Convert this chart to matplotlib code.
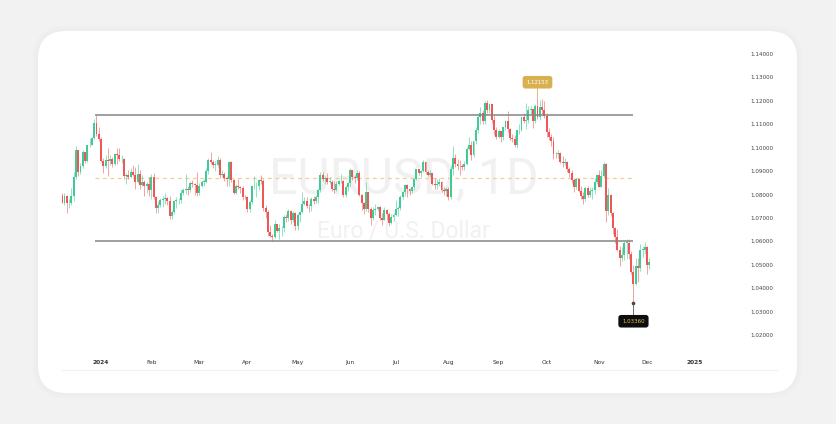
import numpy as np
import pandas as pd
import matplotlib
matplotlib.use("Agg")
import matplotlib.pyplot as plt
from matplotlib.patches import FancyBboxPatch
from matplotlib.transforms import Affine2D
from matplotlib.lines import Line2D

# EURUSD daily candles, 2023-12-06 .. 2024-12-03 (one line per month)
opens = [
    1.0795, 1.0765, 1.0793, 1.0762, 1.0763, 1.0793, 1.0873, 1.0990, 1.0896, 1.0922, 1.0980, 1.0942, 1.1010, 1.1012, 1.1042, 1.1105, 1.1060,
    1.1038, 1.0942, 1.0921, 1.0946, 1.0941, 1.0950, 1.0930, 1.0972, 1.0970, 1.0950, 1.0951, 1.0880, 1.0885, 1.0875, 1.0897, 1.0885, 1.0855, 1.0886, 1.0840, 1.0855, 1.0835, 1.0845,
    1.0818, 1.0873, 1.0790, 1.0743, 1.0755, 1.0775, 1.0780, 1.0785, 1.0772, 1.0708, 1.0727, 1.0772, 1.0777, 1.0777, 1.0807, 1.0820, 1.0823, 1.0820, 1.0850, 1.0845, 1.0840,
    1.0805, 1.0838, 1.0855, 1.0855, 1.0900, 1.0948, 1.0938, 1.0927, 1.0927, 1.0948, 1.0882, 1.0888, 1.0870, 1.0865, 1.0940, 1.0860, 1.0808, 1.0838, 1.0830, 1.0827, 1.0790,
    1.0788, 1.0740, 1.0770, 1.0835, 1.0837, 1.0838, 1.0860, 1.0857, 1.0742, 1.0727, 1.0642, 1.0625, 1.0617, 1.0673, 1.0643, 1.0655, 1.0655, 1.0703, 1.0698, 1.0730, 1.0693, 1.0719,
    1.0665, 1.0713, 1.0727, 1.0761, 1.0771, 1.0752, 1.0749, 1.0783, 1.0771, 1.0790, 1.0820, 1.0882, 1.0865, 1.0870, 1.0855, 1.0855, 1.0822, 1.0820, 1.0847, 1.0858, 1.0858, 1.0800, 1.0832,
    1.0848, 1.0905, 1.0875, 1.0870, 1.0890, 1.0800, 1.0765, 1.0740, 1.0810, 1.0740, 1.0700, 1.0735, 1.0740, 1.0745, 1.0700, 1.0693, 1.0733, 1.0715, 1.0680, 1.0703,
    1.0713, 1.0740, 1.0743, 1.0790, 1.0810, 1.0840, 1.0825, 1.0813, 1.0830, 1.0865, 1.0907, 1.0893, 1.0900, 1.0937, 1.0895, 1.0883, 1.0890, 1.0845, 1.0840, 1.0845, 1.0855, 1.0820, 1.0815,
    1.0825, 1.0790, 1.0910, 1.0955, 1.0930, 1.0922, 1.0920, 1.0918, 1.0932, 1.0993, 1.1013, 1.0967, 1.1027, 1.1077, 1.1130, 1.1150, 1.1112, 1.1192, 1.1160, 1.1185, 1.1120, 1.1077,
    1.1047, 1.1070, 1.1045, 1.1088, 1.1112, 1.1080, 1.1040, 1.1035, 1.1013, 1.1075, 1.1075, 1.1132, 1.1115, 1.1117, 1.1160, 1.1165, 1.1112, 1.1180, 1.1133, 1.1173, 1.1163,
    1.1135, 1.1068, 1.1045, 1.1030, 1.0975, 1.0973, 1.0978, 1.0940, 1.0935, 1.0937, 1.0908, 1.0890, 1.0862, 1.0832, 1.0866, 1.0817, 1.0795, 1.0780, 1.0826, 1.0797, 1.0815, 1.0818, 1.0855,
    1.0882, 1.0833, 1.0880, 1.0930, 1.0730, 1.0800, 1.0720, 1.0655, 1.0620, 1.0565, 1.0530, 1.0540, 1.0595, 1.0595, 1.0545, 1.0470, 1.0418, 1.0495, 1.0488, 1.0565, 1.0565,
    1.0578, 1.0497,
]
highs = [
    1.0805, 1.0805, 1.0796, 1.0780, 1.0826, 1.0895, 1.1009, 1.0992, 1.0936, 1.0988, 1.0982, 1.1013, 1.1040, 1.1046, 1.1121, 1.1140, 1.1088,
    1.1046, 1.0955, 1.0967, 1.1000, 1.0968, 1.0960, 1.0975, 1.0999, 1.0997, 1.0967, 1.0954, 1.0894, 1.0906, 1.0915, 1.0924, 1.0916, 1.0932, 1.0904, 1.0885, 1.0862, 1.0855, 1.0873,
    1.0888, 1.0890, 1.0795, 1.0772, 1.0785, 1.0795, 1.0805, 1.0790, 1.0795, 1.0736, 1.0777, 1.0789, 1.0787, 1.0824, 1.0826, 1.0888, 1.0835, 1.0856, 1.0864, 1.0851, 1.0897,
    1.0850, 1.0860, 1.0868, 1.0912, 1.0954, 1.0981, 1.0947, 1.0945, 1.0963, 1.0955, 1.0906, 1.0895, 1.0878, 1.0942, 1.0942, 1.0867, 1.0843, 1.0865, 1.0838, 1.0838, 1.0800,
    1.0795, 1.0776, 1.0839, 1.0877, 1.0852, 1.0866, 1.0885, 1.0865, 1.0757, 1.0736, 1.0670, 1.0632, 1.0690, 1.0676, 1.0674, 1.0667, 1.0714, 1.0716, 1.0740, 1.0735, 1.0728, 1.0726,
    1.0720, 1.0730, 1.0812, 1.0790, 1.0788, 1.0759, 1.0790, 1.0793, 1.0800, 1.0825, 1.0895, 1.0895, 1.0880, 1.0894, 1.0875, 1.0862, 1.0859, 1.0856, 1.0862, 1.0889, 1.0862, 1.0841, 1.0852,
    1.0915, 1.0906, 1.0883, 1.0903, 1.0902, 1.0802, 1.0768, 1.0852, 1.0812, 1.0746, 1.0746, 1.0761, 1.0752, 1.0750, 1.0720, 1.0746, 1.0740, 1.0724, 1.0715, 1.0722,
    1.0776, 1.0749, 1.0799, 1.0816, 1.0845, 1.0845, 1.0829, 1.0837, 1.0872, 1.0910, 1.0910, 1.0906, 1.0948, 1.0944, 1.0906, 1.0904, 1.0893, 1.0869, 1.0868, 1.0871, 1.0856, 1.0830, 1.0830,
    1.0833, 1.0926, 1.1009, 1.0972, 1.0950, 1.0946, 1.0931, 1.0945, 1.1003, 1.1047, 1.1027, 1.1030, 1.1090, 1.1140, 1.1174, 1.1160, 1.1201, 1.1202, 1.1190, 1.1188, 1.1139, 1.1088,
    1.1078, 1.1072, 1.1090, 1.1120, 1.1155, 1.1085, 1.1060, 1.1055, 1.1075, 1.1100, 1.1133, 1.1147, 1.1189, 1.1180, 1.1180, 1.1168, 1.1188, 1.12153, 1.1202, 1.1209, 1.1198,
    1.1147, 1.1083, 1.1060, 1.1045, 1.0983, 1.0990, 1.0983, 1.0964, 1.0955, 1.0941, 1.0918, 1.0903, 1.0872, 1.0869, 1.0871, 1.0836, 1.0810, 1.0834, 1.0836, 1.0832, 1.0830, 1.0870, 1.0889,
    1.0905, 1.0906, 1.0937, 1.0935, 1.0826, 1.0804, 1.0725, 1.0661, 1.0651, 1.0582, 1.0575, 1.0600, 1.0609, 1.0610, 1.0557, 1.0498, 1.0531, 1.0528, 1.0588, 1.0579, 1.0597,
    1.0582, 1.0530,
]
lows = [
    1.0762, 1.0756, 1.0723, 1.0743, 1.0755, 1.0772, 1.0866, 1.0880, 1.0888, 1.0915, 1.0936, 1.0940, 1.1002, 1.1010, 1.1038, 1.1048, 1.1030,
    1.0937, 1.0892, 1.0915, 1.0877, 1.0924, 1.0917, 1.0925, 1.0931, 1.0944, 1.0935, 1.0865, 1.0845, 1.0865, 1.0870, 1.0879, 1.0822, 1.0849, 1.0822, 1.0835, 1.0795, 1.0805, 1.0795,
    1.0780, 1.0782, 1.0723, 1.0722, 1.0745, 1.0748, 1.0760, 1.0755, 1.0697, 1.0695, 1.0718, 1.0743, 1.0761, 1.0762, 1.0800, 1.0803, 1.0800, 1.0810, 1.0830, 1.0797, 1.0795,
    1.0796, 1.0830, 1.0835, 1.0850, 1.0888, 1.0930, 1.0915, 1.0900, 1.0917, 1.0871, 1.0874, 1.0858, 1.0837, 1.0835, 1.0855, 1.0802, 1.0802, 1.0825, 1.0808, 1.0776, 1.0780,
    1.0726, 1.0724, 1.0760, 1.0824, 1.0791, 1.0820, 1.0843, 1.0729, 1.0698, 1.0622, 1.0620, 1.0601, 1.0615, 1.0638, 1.0611, 1.0624, 1.0642, 1.0682, 1.0689, 1.0674, 1.0683, 1.0650,
    1.0649, 1.0681, 1.0723, 1.0754, 1.0741, 1.0724, 1.0730, 1.0760, 1.0762, 1.0765, 1.0810, 1.0857, 1.0843, 1.0846, 1.0843, 1.0817, 1.0805, 1.0813, 1.0840, 1.0848, 1.0789, 1.0788, 1.0816,
    1.0833, 1.0864, 1.0851, 1.0860, 1.0792, 1.0733, 1.0718, 1.0730, 1.0727, 1.0668, 1.0690, 1.0712, 1.0730, 1.0693, 1.0671, 1.0690, 1.0690, 1.0667, 1.0676, 1.0686,
    1.0710, 1.0710, 1.0734, 1.0781, 1.0794, 1.0791, 1.0797, 1.0806, 1.0819, 1.0860, 1.0882, 1.0875, 1.0895, 1.0886, 1.0878, 1.0875, 1.0840, 1.0825, 1.0825, 1.0838, 1.0810, 1.0800, 1.0794,
    1.0778, 1.0779, 1.0882, 1.0918, 1.0903, 1.0882, 1.0906, 1.0904, 1.0925, 1.0990, 1.0949, 1.0962, 1.1015, 1.1062, 1.1100, 1.1101, 1.1103, 1.1150, 1.1150, 1.1105, 1.1054, 1.1039,
    1.1040, 1.1026, 1.1032, 1.1075, 1.1067, 1.1031, 1.1025, 1.1002, 1.0997, 1.1060, 1.1073, 1.1105, 1.1080, 1.1107, 1.1140, 1.1083, 1.1105, 1.1122, 1.1120, 1.1144, 1.1127,
    1.1046, 1.1032, 1.1007, 1.0951, 1.0954, 1.0956, 1.0934, 1.0918, 1.0925, 1.0897, 1.0873, 1.0849, 1.0811, 1.0822, 1.0812, 1.0781, 1.0761, 1.0772, 1.0790, 1.0788, 1.0780, 1.0802, 1.0844,
    1.0833, 1.0830, 1.0871, 1.0682, 1.0712, 1.0708, 1.0630, 1.0595, 1.0558, 1.0496, 1.0516, 1.0521, 1.0523, 1.0523, 1.0461, 1.0336, 1.0415, 1.0426, 1.0473, 1.0535, 1.0548,
    1.0461, 1.0480,
]
closes = [
    1.0765, 1.0793, 1.0762, 1.0763, 1.0793, 1.0873, 1.0990, 1.0896, 1.0922, 1.0980, 1.0942, 1.1010, 1.1012, 1.1042, 1.1105, 1.1060, 1.1038,
    1.0942, 1.0921, 1.0946, 1.0941, 1.0950, 1.0930, 1.0972, 1.0970, 1.0950, 1.0951, 1.0880, 1.0885, 1.0875, 1.0897, 1.0885, 1.0855, 1.0886, 1.0840, 1.0855, 1.0835, 1.0845, 1.0818,
    1.0873, 1.0790, 1.0743, 1.0755, 1.0775, 1.0780, 1.0785, 1.0772, 1.0708, 1.0727, 1.0772, 1.0777, 1.0777, 1.0807, 1.0820, 1.0823, 1.0820, 1.0850, 1.0845, 1.0840, 1.0805,
    1.0838, 1.0855, 1.0855, 1.0900, 1.0948, 1.0938, 1.0927, 1.0927, 1.0948, 1.0882, 1.0888, 1.0870, 1.0865, 1.0940, 1.0860, 1.0808, 1.0838, 1.0830, 1.0827, 1.0790, 1.0788,
    1.0740, 1.0770, 1.0835, 1.0837, 1.0838, 1.0860, 1.0857, 1.0742, 1.0727, 1.0642, 1.0625, 1.0617, 1.0673, 1.0643, 1.0655, 1.0655, 1.0703, 1.0698, 1.0730, 1.0693, 1.0719, 1.0665,
    1.0713, 1.0727, 1.0761, 1.0771, 1.0752, 1.0749, 1.0783, 1.0771, 1.0790, 1.0820, 1.0882, 1.0865, 1.0870, 1.0855, 1.0855, 1.0822, 1.0820, 1.0847, 1.0858, 1.0858, 1.0800, 1.0832, 1.0848,
    1.0905, 1.0875, 1.0870, 1.0890, 1.0800, 1.0765, 1.0740, 1.0810, 1.0740, 1.0700, 1.0735, 1.0740, 1.0745, 1.0700, 1.0693, 1.0733, 1.0715, 1.0680, 1.0703, 1.0713,
    1.0740, 1.0743, 1.0790, 1.0810, 1.0840, 1.0825, 1.0813, 1.0830, 1.0865, 1.0907, 1.0893, 1.0900, 1.0937, 1.0895, 1.0883, 1.0890, 1.0845, 1.0840, 1.0845, 1.0855, 1.0820, 1.0815, 1.0825,
    1.0790, 1.0910, 1.0955, 1.0930, 1.0922, 1.0920, 1.0918, 1.0932, 1.0993, 1.1013, 1.0967, 1.1027, 1.1077, 1.1130, 1.1150, 1.1112, 1.1192, 1.1160, 1.1185, 1.1120, 1.1077, 1.1047,
    1.1070, 1.1045, 1.1088, 1.1112, 1.1080, 1.1040, 1.1035, 1.1013, 1.1075, 1.1075, 1.1132, 1.1115, 1.1117, 1.1160, 1.1165, 1.1112, 1.1180, 1.1133, 1.1173, 1.1163, 1.1135,
    1.1068, 1.1045, 1.1030, 1.0975, 1.0973, 1.0978, 1.0940, 1.0935, 1.0937, 1.0908, 1.0890, 1.0862, 1.0832, 1.0866, 1.0817, 1.0795, 1.0780, 1.0826, 1.0797, 1.0815, 1.0818, 1.0855, 1.0882,
    1.0833, 1.0880, 1.0930, 1.0730, 1.0800, 1.0720, 1.0655, 1.0620, 1.0565, 1.0530, 1.0540, 1.0595, 1.0595, 1.0545, 1.0470, 1.0418, 1.0495, 1.0488, 1.0565, 1.0565, 1.0578,
    1.0497, 1.0510,
]

holidays = ["2023-12-25", "2024-01-01", "2024-12-25", "2025-01-01"]
yticks = [1.02, 1.03, 1.04, 1.05, 1.06, 1.07, 1.08, 1.09, 1.10, 1.11, 1.12, 1.13, 1.14]

resistance = 1.1140
support = 1.0600
midline = 1.0870
line_from = "2023-12-28"
line_to = "2024-11-22"

UP = "#3ecb95"
DOWN = "#ef5656"
GOLD = "#d8b04f"

# trading-day axis (weekends/holidays skipped)
dates = pd.bdate_range("2023-12-06", "2025-01-15")
dates = dates[~dates.isin(pd.to_datetime(holidays))]
n = len(closes)
o = np.array(opens); h = np.array(highs); l = np.array(lows); c = np.array(closes)
x = np.arange(n)

W, H = 836, 424
fig = plt.figure(figsize=(W / 100, H / 100), dpi=100)
fig.patch.set_facecolor("#f2f2f2")
px = Affine2D().scale(1 / W, 1 / H) + fig.transFigure

# card with soft shadow
for k in range(6, 0, -1):
    fig.patches.append(FancyBboxPatch((38 - k, H - 393 - k), 759 + 2 * k, 362 + 2 * k,
                                      boxstyle="round,pad=0,rounding_size=%d" % (28 + k),
                                      transform=px, fc="black", ec="none", alpha=0.005, zorder=-5))
fig.patches.append(FancyBboxPatch((38, H - 393), 759, 362, boxstyle="round,pad=0,rounding_size=28",
                                  transform=px, fc="white", ec="none", zorder=-4))
fig.add_artist(Line2D([62, 777], [H - 370, H - 370], transform=px, color="#f0f0f0", lw=0.8, zorder=-3))

ax = fig.add_axes([62 / W, 1 - 345 / H, (745 - 62) / W, (345 - 40) / H])
ax.patch.set_alpha(0)
bar_px = 2.285
ax.set_xlim(-0.2 / bar_px, (745 - 62.2) / bar_px)
ax.set_ylim(1.14 - (345 - 54) / 2342, 1.14 + (54 - 40) / 2342)

# watermark
ax.text(0.5, 0.498, "EURUSD, 1D", transform=ax.transAxes, ha="center", va="baseline",
        fontsize=36, family="Roboto", color="#f1f1f1", zorder=0)
ax.text(0.5, 0.354, "Euro / U.S. Dollar", transform=ax.transAxes, ha="center", va="baseline",
        fontsize=16.5, family="Roboto", color="#f1f1f1", zorder=0)

colors = np.where(c >= o, UP, DOWN)
ax.vlines(x, l, h, colors=colors, lw=0.65, alpha=0.6, zorder=3)
ax.bar(x, np.maximum(np.abs(c - o), 0.00012), bottom=np.minimum(o, c), width=0.85,
       color=colors, linewidth=0, zorder=4)

i0 = dates.get_loc(pd.Timestamp(line_from))
i1 = dates.get_loc(pd.Timestamp(line_to))
ax.hlines([resistance, support], i0 - 0.6, i1, colors="#858585", lw=1.1, zorder=5)
ax.hlines(midline, i0 - 0.6, i1, colors="#f3cd92", lw=0.9, linestyles=(0, (3, 3)), zorder=2)

# high / low labels
ih = int(np.argmax(h))
ax.annotate("%.5f" % h[ih], xy=(ih, h[ih]), xytext=(0, 10.8), textcoords="offset points",
            ha="center", va="center", fontsize=3.9, color="white", zorder=7,
            bbox=dict(boxstyle="round,pad=0.7,rounding_size=0.5", fc=GOLD, ec="none"),
            arrowprops=dict(arrowstyle="-", color=GOLD, lw=0.6, shrinkA=0, shrinkB=0))
il = int(np.argmin(l))
ax.plot(il, l[il], marker="o", ms=1.6, color="#444444", zorder=6)
ax.annotate("%.5f" % l[il], xy=(il, l[il]), xytext=(0, -13), textcoords="offset points",
            ha="center", va="center", fontsize=3.9, color="#e6c25c", zorder=7,
            bbox=dict(boxstyle="round,pad=0.7,rounding_size=0.5", fc="#0e0e0e", ec="none"),
            arrowprops=dict(arrowstyle="-", color="#555555", lw=0.6, shrinkA=0, shrinkB=0))

# axes
for s in ax.spines.values():
    s.set_visible(False)
ax.yaxis.tick_right()
ax.set_yticks(yticks)
ax.set_yticklabels(["%.5f" % v for v in yticks])
ax.tick_params(axis="y", length=0, pad=3.6, labelsize=4.1, labelcolor="#444444")

pos = pd.Series(np.arange(len(dates)), index=dates)
firsts = pos.groupby(dates.to_period("M")).first().iloc[1:]
xt = list(firsts.values)
xl = [str(p.year) if p.month == 1 else p.strftime("%b") for p in firsts.index]
ax.set_xticks(xt)
ax.set_xticklabels(xl)
ax.tick_params(axis="x", length=0, pad=11, labelsize=4.2, labelcolor="#333333")
for t in ax.get_xticklabels():
    if t.get_text().isdigit():
        t.set_fontweight("bold")

fig.savefig("out.png", dpi=100, facecolor=fig.get_facecolor())
